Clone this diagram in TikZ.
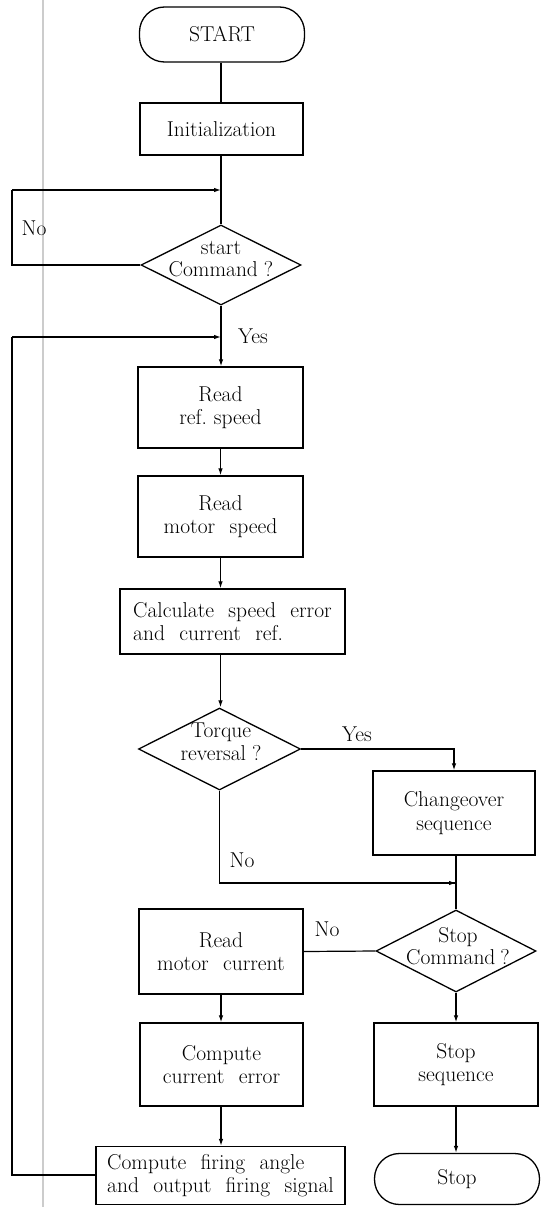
\documentclass[tikz,border=0pt]{standalone}
\usepackage{fontspec}
\setmainfont{Latin Modern Roman}[WordSpace=2.2]
\usetikzlibrary{shapes.geometric,arrows.meta,calc}
\newcommand{\txtfont}{\fontsize{21.5}{23.5}\selectfont}
\begin{document}
\begin{tikzpicture}[x=1pt,y=-1pt,
  line width=1.2pt,
  every node/.style={font=\txtfont, align=center, inner sep=0pt},
  procbox/.style={draw, rectangle, line width=1.3pt},
  termbox/.style={draw, rectangle, rounded corners=25pt, line width=1.3pt},
  decbox/.style={draw, diamond, line width=1.3pt},
  arr/.style={-{Latex[length=7pt,width=4.5pt]}},
  lbl/.style={font=\txtfont}
]
\useasboundingbox (0,0) rectangle (542,1207);
% scan fold line
\draw[gray!40, line width=1.6pt] (43,0) -- (43,1207);

% main column
\node[termbox, minimum width=165pt, minimum height=55pt] (start) at (222,34.5) {START};
\node[procbox, minimum width=163pt, minimum height=52pt] (init) at (221.5,129) {Initialization};
\node[decbox, minimum width=160pt, minimum height=80pt] (d1) at (221,265) {};
\node at (221,259) (d1t) {start\\[-1pt]Command\hspace{6pt}?};
\node[procbox, minimum width=165pt, minimum height=81pt] (rs) at (220.5,407.5) {Read\\ref.\hspace{7pt}speed};
\node[procbox, minimum width=165pt, minimum height=81pt] (ms) at (220.5,516.5) {Read\\motor speed};
\node[procbox, minimum width=225pt, minimum height=65pt, align=left] (calc) at (232.5,621.5) {Calculate speed error\\and current ref.};
\node[decbox, minimum width=162pt, minimum height=82pt] (d2) at (219.5,749) {};
\node at (221,742) (d2t) {Torque\\[-1pt]reversal\hspace{6pt}?};

% right column
\node[procbox, minimum width=162pt, minimum height=84pt] (chg) at (454,813) {Changeover\\sequence};
\node[decbox, minimum width=160pt, minimum height=82pt] (d3) at (456,951) {};
\node at (458,946) (d3t) {Stop\\[-1pt]Command\hspace{5pt}?};
\node[procbox, minimum width=164pt, minimum height=83pt] (ss) at (456,1064.5) {Stop\\sequence};
\node[termbox, minimum width=165pt, minimum height=51pt] (stop) at (457,1179) {Stop};

% lower left column
\node[procbox, minimum width=164pt, minimum height=85pt] (rmc) at (221,951.5) {Read\\motor current};
\node[procbox, minimum width=163pt, minimum height=83pt] (cce) at (221.5,1064.5) {Compute\\current error};
\node[procbox, minimum width=249pt, minimum height=58pt, align=left] (fire) at (220.5,1175.5) {Compute firing angle\\and output firing signal};

% join coordinates
\coordinate (j1) at (221,190);
\coordinate (j2) at (221,337);
\coordinate (j3) at (456,883);
\coordinate (l1a) at (12,190);
\coordinate (l1b) at (12,265);
\coordinate (l2a) at (12,337);
\coordinate (l2b) at (12,1175);

% connectors
\draw (start.south -| j1) -- (init.north -| j1);
\draw (init.south -| j1) -- (d1.north);
\draw (d1.west) -- (l1b) -- (l1a);
\draw[arr] (l1a) -- (j1);
\draw (d1.south) -- (j2);
\draw[arr] (j2) -- (rs.north -| j2);
\draw[arr] (rs.south) -- (ms.north);
\draw[arr] (ms.south) -- (ms.south |- calc.north);
\draw[arr] (ms.south |- calc.south) -- (d2.north -| ms.south);
\draw[arr] (d2.east) -| (chg.north);
\draw (d2.south) |- ($(j3)+(-1,0)$);
\draw[arr] (d2.south |- j3) -- (j3);
\draw (chg.south -| j3) -- (d3.north);
\draw (d3.west) -- (rmc.east);
\draw[arr] (d3.south) -- (ss.north -| d3.south);
\draw[arr] (ss.south -| d3.south) -- (stop.north -| d3.south);
\draw[arr] (rmc.south -| j1) -- (cce.north -| j1);
\draw[arr] (cce.south -| j1) -- (fire.north -| j1);
\draw (fire.west |- l2b) -- (l2b) -- (l2a);
\draw[arr] (l2a) -- (j2);

% labels
\node[lbl] (no1) at (34,228) {No};
\node[lbl] (yes1) at (253,336) {Yes};
\node[lbl] (yes2) at (357,734) {Yes};
\node[lbl] (no2) at (242,860) {No};
\node[lbl] (no3) at (327,929) {No};
\end{tikzpicture}
\end{document}
